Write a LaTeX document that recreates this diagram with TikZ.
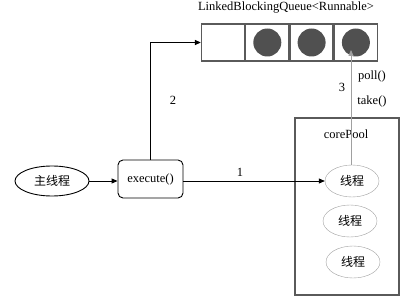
\documentclass[tikz,border=0pt]{standalone}
\usepackage{fontspec}
\setmainfont{Liberation Serif}
\newfontfamily\cjk{Noto Sans CJK SC}
\usetikzlibrary{arrows.meta, positioning, shapes.geometric}
\definecolor{boxgray}{RGB}{90, 90, 90}
\definecolor{lightgray}{RGB}{160, 160, 160}
\definecolor{dotgray}{RGB}{80, 80, 80}

\begin{document}
\begin{tikzpicture}[x=1pt, y=-1pt, >={Triangle[length=6pt, width=5pt]},
    cell/.style={draw=boxgray, line width=1.3pt, minimum width=43pt, minimum height=37pt, inner sep=0pt},
    dot/.style={circle, fill=dotgray, minimum size=28pt, inner sep=0pt},
    thread/.style={ellipse, draw=lightgray, minimum width=54pt, minimum height=32pt, inner sep=0pt, font=\cjk\fontsize{12}{14}\selectfont},
    every node/.style={font=\fontsize{12.5}{14}\selectfont}]
    \useasboundingbox (0,0) rectangle (406,299);
    % queue
    \node at (286,8) {LinkedBlockingQueue<Runnable>};
    \node[cell] (q1) at (223,42.5) {};
    \node[cell, right=0pt of q1] (q2) {};
    \node[cell, right=0pt of q2] (q3) {};
    \node[cell, right=0pt of q3] (q4) {};
    \node[dot] at (q2) {};
    \node[dot] at (q3) {};
    \node[dot] (task) at (q4) {};
    \coordinate (taskin) at (351,50);
    % pool
    \draw[boxgray, line width=1.1pt] (295,118) rectangle (399,295);
    \node at (346,134) {corePool};
    \node[thread] (t1) at (352,181) {线程};
    \node[thread] (t2) at (350,221) {线程};
    \node[thread] (t3) at (353,262) {线程};
    % caller
    \node[ellipse, draw, line width=0.9pt, minimum width=74pt, minimum height=30pt, inner sep=0pt, font=\cjk\fontsize{12}{14}\selectfont] (main) at (52,181) {主线程};
    \node[draw, rounded corners=5pt, line width=0.9pt, minimum width=65pt, minimum height=38pt, inner sep=0pt] (exec) at (150.5,179) {\raisebox{2pt}{execute()}};
    \draw[->, line width=0.9pt] (main) -- (exec.west |- main);
    \draw[->, line width=0.8pt] (exec.east |- main) -- (t1);
    \draw[->, line width=1.3pt] (exec.north) |- (q1.west);
    \draw[->, lightgray, line width=0.8pt] (t1.north -| taskin) -- (taskin);
    \node at (240,172) {1};
    \node at (173,100) {2};
    \node at (342,87) {3};
    \node at (372,76) {poll()};
    \node at (372,101) {take()};
\end{tikzpicture}
\end{document}
